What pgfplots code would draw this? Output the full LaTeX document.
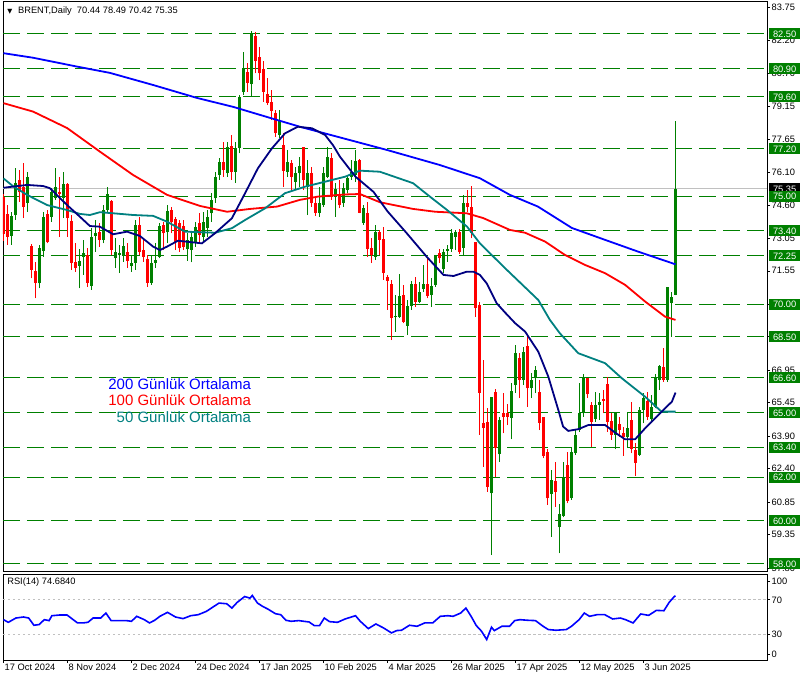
\documentclass[border=0pt]{standalone}
\usepackage{pgfplots}
\pgfplotsset{compat=1.18}
\usepackage{pgfplotstable}
\usepackage{fontspec}
\setmainfont{Liberation Sans}
\newfontfamily\dejavu{DejaVu Sans}
\definecolor{cgreen}{RGB}{0,128,0}
\definecolor{cred}{RGB}{255,0,0}
\definecolor{cblue}{RGB}{0,0,255}
\definecolor{cnavy}{RGB}{0,0,128}
\definecolor{cteal}{RGB}{0,128,128}
\definecolor{cgray}{RGB}{192,192,192}
\newcommand\lab{\fontsize{9.3}{11}\selectfont}

\pgfplotstableread{
i o h l c
2 73.18 74.29 72.75 74.09
3 74.13 76.29 73.90 75.60
6 74.70 76.14 74.29 75.90
9 70.97 72.75 70.74 72.59
10 72.48 74.29 72.21 74.04
12 74.06 75.37 73.82 75.18
13 74.90 76.29 74.83 75.44
15 74.93 76.14 73.98 75.57
19 71.79 72.55 70.74 72.01
20 72.18 72.98 71.36 72.36
22 70.87 73.52 70.67 73.10
23 73.18 73.90 72.44 73.32
25 72.98 74.59 72.82 74.36
26 74.36 75.43 74.21 75.09
28 72.13 73.05 71.67 72.41
29 72.28 72.75 71.44 72.36
30 72.25 73.05 71.98 72.71
32 71.79 72.28 71.51 71.90
33 71.90 73.90 71.59 73.67
37 71.00 72.28 70.90 71.90
38 71.93 72.82 71.67 72.05
39 72.21 73.75 72.13 73.64
41 73.33 74.59 72.82 74.32
46 72.54 73.28 72.02 72.98
47 72.51 73.28 71.94 73.13
48 72.90 73.82 72.67 73.59
50 73.13 74.29 72.90 73.82
51 73.52 74.36 73.13 74.05
52 74.21 75.13 73.82 74.83
53 74.90 76.14 74.70 75.90
54 75.98 76.75 75.75 76.60
56 76.06 77.52 75.90 77.26
58 76.14 77.52 75.63 77.21
59 77.25 79.68 76.98 79.57
60 79.80 81.68 79.68 80.91
62 80.17 82.65 79.60 82.48
69 77.83 78.99 77.68 78.49
71 76.14 77.14 75.90 76.60
73 75.67 76.37 75.29 76.06
74 76.06 76.83 75.44 76.41
76 75.44 76.67 74.13 76.09
79 74.24 75.44 74.05 74.70
80 74.59 76.37 74.52 76.06
81 75.90 77.29 75.83 76.83
83 74.98 75.60 74.05 75.32
85 74.67 75.60 74.52 75.37
86 75.29 75.98 75.13 75.83
87 75.87 76.68 75.75 76.14
88 75.98 77.14 75.67 76.64
90 73.75 74.59 73.67 74.44
93 72.18 73.67 72.05 73.36
98 69.40 70.43 68.74 69.46
99 69.43 71.40 69.36 70.39
101 69.02 70.20 68.58 69.94
102 69.94 71.10 69.74 70.94
104 70.13 71.05 70.05 70.59
105 70.70 71.82 70.59 70.93
107 70.43 71.20 69.89 70.85
108 70.90 72.28 70.82 72.28
110 71.62 72.55 71.44 72.44
111 72.47 72.75 71.97 72.55
112 72.56 73.47 72.44 73.32
113 73.13 73.44 72.51 73.36
115 72.62 75.06 72.24 74.67
122 61.26 65.73 58.41 65.70
124 63.07 64.81 62.73 64.65
127 64.76 66.35 63.76 66.01
128 66.27 68.12 65.92 67.77
130 66.50 68.05 66.27 67.81
132 66.12 66.81 65.66 66.50
133 66.58 67.15 65.89 66.97
137 61.23 62.34 59.26 61.88
139 59.69 60.77 58.49 60.31
140 60.22 62.73 60.15 62.00
142 61.03 63.34 60.96 63.19
143 63.11 64.19 63.04 63.96
144 64.19 66.35 64.12 64.96
145 64.96 66.78 64.81 66.58
148 64.69 65.96 64.58 65.35
149 65.35 65.89 64.65 65.50
153 63.96 65.04 63.30 64.96
156 63.85 64.96 63.42 64.27
159 63.04 65.27 62.99 65.12
160 65.12 65.89 64.50 65.66
162 64.69 65.81 64.58 65.27
163 65.27 66.78 65.19 66.63
164 66.50 67.20 66.04 67.15
166 66.50 70.82 66.43 70.82
167 70.08 70.59 68.51 70.36
168 70.44 78.49 70.42 75.35
}\upc

\pgfplotstableread{
i o h l c
0 74.95 75.10 72.95 73.25
1 74.16 74.59 72.75 73.13
4 75.75 76.21 74.75 75.18
5 75.44 76.52 73.98 74.52
7 72.71 72.77 71.20 71.59
8 71.54 71.98 70.28 71.00
11 74.16 74.36 72.82 72.87
14 75.21 75.90 73.13 75.10
16 75.57 75.60 73.13 73.98
17 73.86 74.13 71.59 71.90
18 71.94 72.82 71.51 71.70
21 72.28 72.59 70.82 71.00
24 73.36 73.75 72.67 72.98
27 74.80 74.83 72.28 72.51
31 72.42 72.82 71.67 72.01
34 73.67 74.06 72.28 72.44
35 72.51 73.05 71.98 72.21
36 72.10 72.28 70.82 71.00
40 73.67 73.82 72.51 73.28
42 74.36 74.52 73.28 73.82
43 73.95 74.05 72.51 72.90
44 73.75 73.90 72.44 72.59
45 73.62 73.90 72.51 72.67
49 73.75 74.21 72.90 73.21
55 76.57 77.52 75.90 76.21
57 77.34 77.83 75.75 76.14
61 80.73 81.14 79.83 80.25
63 82.41 82.58 80.68 81.25
64 81.42 81.91 80.37 80.68
65 80.87 81.27 79.37 79.83
66 79.73 80.45 79.22 79.33
67 79.37 79.91 78.52 78.96
68 78.83 78.99 77.75 77.91
70 77.37 77.91 75.44 76.18
72 76.52 76.67 75.29 75.90
75 77.26 77.29 75.29 75.75
77 76.09 76.37 74.52 74.67
78 74.70 74.98 74.09 74.24
82 76.78 76.98 74.83 74.98
84 75.06 75.75 74.44 74.59
89 76.68 76.71 74.21 74.24
91 74.21 74.75 72.21 72.55
92 72.59 73.05 71.90 72.28
94 73.36 73.44 72.28 72.98
95 73.01 73.59 71.13 71.44
96 71.28 71.36 69.74 71.10
97 70.94 71.13 68.35 69.36
100 70.43 70.90 69.12 69.20
103 70.94 71.28 69.89 70.13
106 70.93 72.21 70.28 70.40
109 72.36 72.55 71.90 72.13
114 73.36 73.47 72.33 72.44
116 74.67 75.29 74.29 74.49
117 74.49 75.47 73.05 73.32
118 72.90 72.90 69.43 69.82
119 69.97 70.13 63.96 65.92
120 64.50 67.43 62.50 64.30
121 64.58 65.19 61.34 61.57
123 65.93 66.07 62.00 63.38
125 64.96 65.92 64.04 64.81
126 64.96 65.39 64.42 64.81
129 67.51 67.74 65.66 66.50
131 68.08 68.63 65.27 66.12
134 65.96 66.50 64.19 64.53
135 64.78 64.81 62.88 62.99
136 63.19 63.31 60.73 61.03
138 61.85 62.73 60.65 61.34
141 62.57 63.19 60.80 60.93
146 66.58 66.61 65.66 65.84
147 65.35 65.50 63.42 64.58
150 65.61 66.04 64.96 65.55
151 66.32 66.63 64.12 64.58
152 64.61 64.96 63.73 63.96
154 64.47 64.81 63.88 64.19
155 64.07 64.32 62.99 63.88
157 64.65 65.50 63.11 63.30
158 63.27 63.58 62.07 62.68
161 65.55 65.96 64.65 64.81
165 67.12 67.97 66.43 66.50
}\dnc

\begin{document}
\begin{tikzpicture}
\path[use as bounding box] (0,0) rectangle (807pt,681pt);
\begin{axis}[
  scale only axis, at={(3pt,110pt)}, anchor=south west,
  width=764pt, height=569.5pt,
  xmin=-0.125, xmax=190.875, ymin=57.673, ymax=84.0,
  axis line style={line width=0.8pt},
  xtick=\empty,
  ytick={57.80,59.35,60.85,62.40,63.90,65.45,66.95,68.50,70.00,71.55,73.05,74.60,76.10,77.65,79.15,80.70,82.20,83.75},
  ytick pos=right, yticklabel pos=right,
  tick align=outside, major tick length=3pt,
  tick style={black, line width=0.6pt},
  yticklabel style={font=\lab, inner sep=1.5pt, /pgf/number format/.cd, fixed, fixed zerofill, precision=2, assume math mode=true},
  candle/.style={forget plot, draw=none, mark=none, error bars/.cd, y dir=plus, y explicit, error mark=none},
]
% horizontal levels
\pgfplotsinvokeforeach{82.5,80.9,79.6,77.2,75,73.4,72.25,70,68.5,66.6,65,63.4,62,60,58}{
  \draw[cgreen, line width=0.9pt, dash pattern=on 17pt off 7pt] (axis cs:-0.125,#1) -- (axis cs:190.875,#1);
}
\draw[cgray, line width=0.8pt] (axis cs:-0.125,75.35) -- (axis cs:190.875,75.35);

% wicks
\addplot[candle, error bar style={draw=cgreen, line width=1pt}] table[x=i, y=l, y error plus expr=\thisrow{h}-\thisrow{l}] {\upc};
\addplot[candle, error bar style={draw=cred, line width=1pt}] table[x=i, y=l, y error plus expr=\thisrow{h}-\thisrow{l}] {\dnc};
% bodies
\addplot[candle, error bar style={draw=cgreen, line width=3pt}] table[x=i, y=o, y error plus expr=\thisrow{c}-\thisrow{o}] {\upc};
\addplot[candle, error bar style={draw=cred, line width=3pt}] table[x=i, y=c, y error plus expr=\thisrow{o}-\thisrow{c}] {\dnc};

% 200 MA
\addplot[cblue, line width=1.8pt] coordinates {(0,81.61)(7.4,81.40)(18.4,80.99)(26.6,80.70)(37.4,80.14)(48.4,79.54)(57.4,79.13)(65.9,78.66)(74.1,78.21)(95.8,77.14)(109.1,76.44)(119.1,75.83)(126.6,75.06)(133.6,74.52)(142.1,73.53)(150.4,72.98)(158.6,72.44)(168,71.85)};
% 100 MA
\addplot[cred, line width=1.8pt] coordinates {(0,79.30)(7.4,78.91)(15.9,78.15)(24.1,77.06)(32.4,75.98)(40.9,75.06)(49.1,74.55)(55.9,74.28)(61.6,74.41)(68.4,74.52)(74.1,74.83)(78.6,74.98)(85.4,75.08)(89.1,75.10)(94.1,74.72)(102.4,74.41)(108,74.28)(115.8,74.21)(119.9,73.99)(126.6,73.44)(130.4,73.31)(135.4,72.90)(140.4,72.28)(145.4,71.82)(150.4,71.44)(155.4,70.90)(160.4,70.13)(165.4,69.43)(168,69.28)};
% 50 MA
\addplot[cteal, line width=1.8pt] coordinates {(0,75.82)(2.4,75.46)(5.9,75.06)(10.9,74.59)(15.9,74.36)(19.1,74.18)(21.6,74.13)(24.1,74.26)(27.4,74.21)(32.4,74.13)(37.4,74.09)(40.9,73.82)(45.4,73.36)(52.9,73.31)(57.1,73.52)(60.4,73.90)(65.4,74.44)(70.4,75.14)(75.4,75.44)(80.4,75.67)(85.4,75.90)(89.1,76.18)(94.1,76.13)(102.4,75.60)(106.6,74.98)(110.9,74.36)(115.9,73.59)(119.1,72.82)(125.4,71.67)(133.7,70.20)(136.6,69.28)(139.1,68.66)(143.7,67.74)(150.4,67.28)(154.6,66.58)(160.4,65.73)(164.5,65.04)(168,65.04)};
% 20 MA
\addplot[cnavy, line width=1.8pt] coordinates {(0,75.39)(5.9,75.52)(9.9,75.47)(11.6,75.37)(15.9,74.59)(19.1,74.05)(21.6,73.62)(24.1,73.59)(27.4,73.24)(30.9,73.36)(34.1,73.16)(37.4,72.67)(39.1,72.51)(40.9,72.67)(43.6,72.94)(49.6,72.82)(52.9,73.29)(57.1,73.98)(60.4,75.14)(63.6,76.29)(67.1,77.21)(70.4,77.91)(73.6,78.21)(77.1,78.14)(80.4,77.83)(82.4,77.35)(84.1,76.83)(88,75.9)(92.5,75.2)(96,74.3)(100.8,73.29)(105.8,72.20)(110,71.36)(112.5,71.31)(115.8,71.51)(117.5,71.51)(119.1,71.36)(120.8,70.97)(123.3,70.05)(125.4,69.62)(127.9,69.13)(130.4,68.74)(133.7,67.81)(136.2,66.66)(138.7,65.12)(139.9,64.35)(141.2,64.15)(143.7,64.23)(146.2,64.42)(150.4,64.42)(152.9,64.07)(155.4,63.76)(157.9,63.76)(160.4,64.27)(162.9,64.73)(165.4,65.20)(167.1,65.50)(168,65.92)};

% texts
\node[anchor=center, font=\dejavu\fontsize{6.5}{7}\selectfont] at (axis cs:1.6,83.52) {▼};
\node[anchor=west, font=\lab, inner sep=0pt] at (axis cs:3.6,83.56) {BRENT,Daily\ \ 70.44 78.49 70.42 75.35};
\node[anchor=east, text=cblue, font=\fontsize{15}{17}\selectfont, inner sep=0pt] at (axis cs:61.9,66.32) {200 Günlük Ortalama};
\node[anchor=east, text=cred, font=\fontsize{15}{17}\selectfont, inner sep=0pt] at (axis cs:61.9,65.58) {100 Günlük Ortalama};
\node[anchor=east, text=cteal, font=\fontsize{15}{17}\selectfont, inner sep=0pt] at (axis cs:61.9,64.79) {50 Günlük Ortalama};

\coordinate (cp) at (axis cs:190.875,75.35);
\coordinate (b1) at (axis cs:190.875,82.5);
\coordinate (b2) at (axis cs:190.875,80.9);
\coordinate (b3) at (axis cs:190.875,79.6);
\coordinate (b4) at (axis cs:190.875,77.2);
\coordinate (b5) at (axis cs:190.875,75.0);
\coordinate (b6) at (axis cs:190.875,73.4);
\coordinate (b7) at (axis cs:190.875,72.25);
\coordinate (b8) at (axis cs:190.875,70.0);
\coordinate (b9) at (axis cs:190.875,68.5);
\coordinate (b10) at (axis cs:190.875,66.6);
\coordinate (b11) at (axis cs:190.875,65.0);
\coordinate (b12) at (axis cs:190.875,63.4);
\coordinate (b13) at (axis cs:190.875,62.0);
\coordinate (b14) at (axis cs:190.875,60.0);
\coordinate (b15) at (axis cs:190.875,58.0);
\end{axis}

\tikzset{pbox/.style={anchor=west, xshift=2pt, text=white, font=\lab, inner xsep=3.8pt, inner ysep=0pt, minimum height=11pt, text height=7pt, text depth=0pt}}
\node[pbox, fill=black] at (cp) {75.35};
\foreach \n/\t in {b1/82.50,b2/80.90,b3/79.60,b4/77.20,b5/75.00,b6/73.40,b7/72.25,b8/70.00,b9/68.50,b10/66.60,b11/65.00,b12/63.40,b13/62.00,b14/60.00,b15/58.00}
  \node[pbox, fill=cgreen] at (\n) {\t};

% RSI panel
\begin{axis}[
  scale only axis, at={(3pt,21pt)}, anchor=south west,
  width=764pt, height=86pt,
  xmin=-0.125, xmax=190.875, ymin=0, ymax=100,
  axis line style={line width=0.8pt},
  xtick={0,16,...,160},
  xticklabels={17 Oct 2024,8 Nov 2024,2 Dec 2024,24 Dec 2024,17 Jan 2025,10 Feb 2025,4 Mar 2025,26 Mar 2025,17 Apr 2025,12 May 2025,3 Jun 2025},
  xtick pos=bottom,
  xticklabel style={font=\lab, anchor=north west, inner sep=1pt},
  ytick={7,30,70,92}, yticklabels={0,30,70,100},
  ytick pos=right, yticklabel pos=right,
  yticklabel style={font=\lab, inner sep=1.5pt},
  tick align=outside, major tick length=3pt,
  tick style={black, line width=0.6pt},
]
\draw[cgray, line width=0.8pt, dash pattern=on 2.5pt off 2.5pt] (axis cs:-0.125,70) -- (axis cs:190.875,70);
\draw[cgray, line width=0.8pt, dash pattern=on 2.5pt off 2.5pt] (axis cs:-0.125,30) -- (axis cs:190.875,30);
\addplot[cblue, line width=1.6pt] coordinates {(0,46.9)(1.2,43.8)(3.1,48.8)(5,50)(6.3,48.8)(7.6,40.4)(8.9,41.2)(10.2,46.9)(11.4,45.8)(12.1,51.5)(14,52.3)(15.9,52.3)(17.2,47.7)(18.5,43.1)(19.8,43.1)(21.1,43.8)(22.4,48.8)(24.3,48.8)(25.6,54.6)(26.9,45.8)(30.7,45.8)(32,45)(33.3,50.8)(35.2,46.9)(36.5,43.1)(37.8,46.2)(39.1,50.8)(41,55.4)(43,50)(44.9,48.1)(46.8,51.5)(48.7,52.7)(50.7,56.5)(52.6,62.3)(53.9,66.2)(55.8,65.4)(57.1,60.4)(58.4,66.9)(60.3,73.8)(61.6,71.9)(62.2,75)(63.5,66.2)(64.8,62.3)(66.1,59.2)(68,53.8)(69.3,52.7)(70.6,46.2)(71.9,45)(73.8,45.8)(76.4,44.2)(77.7,40)(79,40)(80.2,48.8)(81.5,44.6)(83.5,43.8)(85.4,47.7)(88,51.5)(89.2,45)(91.2,36.5)(93.1,41.9)(95,37.3)(97,31.5)(98.3,34.2)(99.5,34.6)(101.5,40.4)(103.4,39.2)(105.3,43.1)(107.3,43.1)(109.2,50.8)(111.1,51.5)(112.4,50.8)(114.3,54.6)(115.6,60.4)(116.9,50.8)(118.2,40)(119.5,33.5)(120.8,23.8)(122,38.1)(122.7,34.2)(124.6,39.2)(126.5,39.2)(127.8,45.8)(129.1,46.9)(131,46.2)(133,45.8)(134.9,39.2)(136.2,35.4)(138.1,34.6)(140.7,35.4)(142,39.2)(143.9,46.9)(145.2,54.6)(146.5,50.8)(148.4,52.7)(150.3,52.7)(152.3,47.7)(154.2,48.8)(155.5,46.9)(157.4,43.1)(159.3,53.5)(161.3,51.9)(163.2,57.7)(165.1,57.3)(166.4,66.9)(167.7,73.8)(168,74.68)};
\node[anchor=west, font=\lab, inner sep=0pt] at (axis cs:0.9,90.7) {RSI(14) 74.6840};
\end{axis}
\end{tikzpicture}
\end{document}
